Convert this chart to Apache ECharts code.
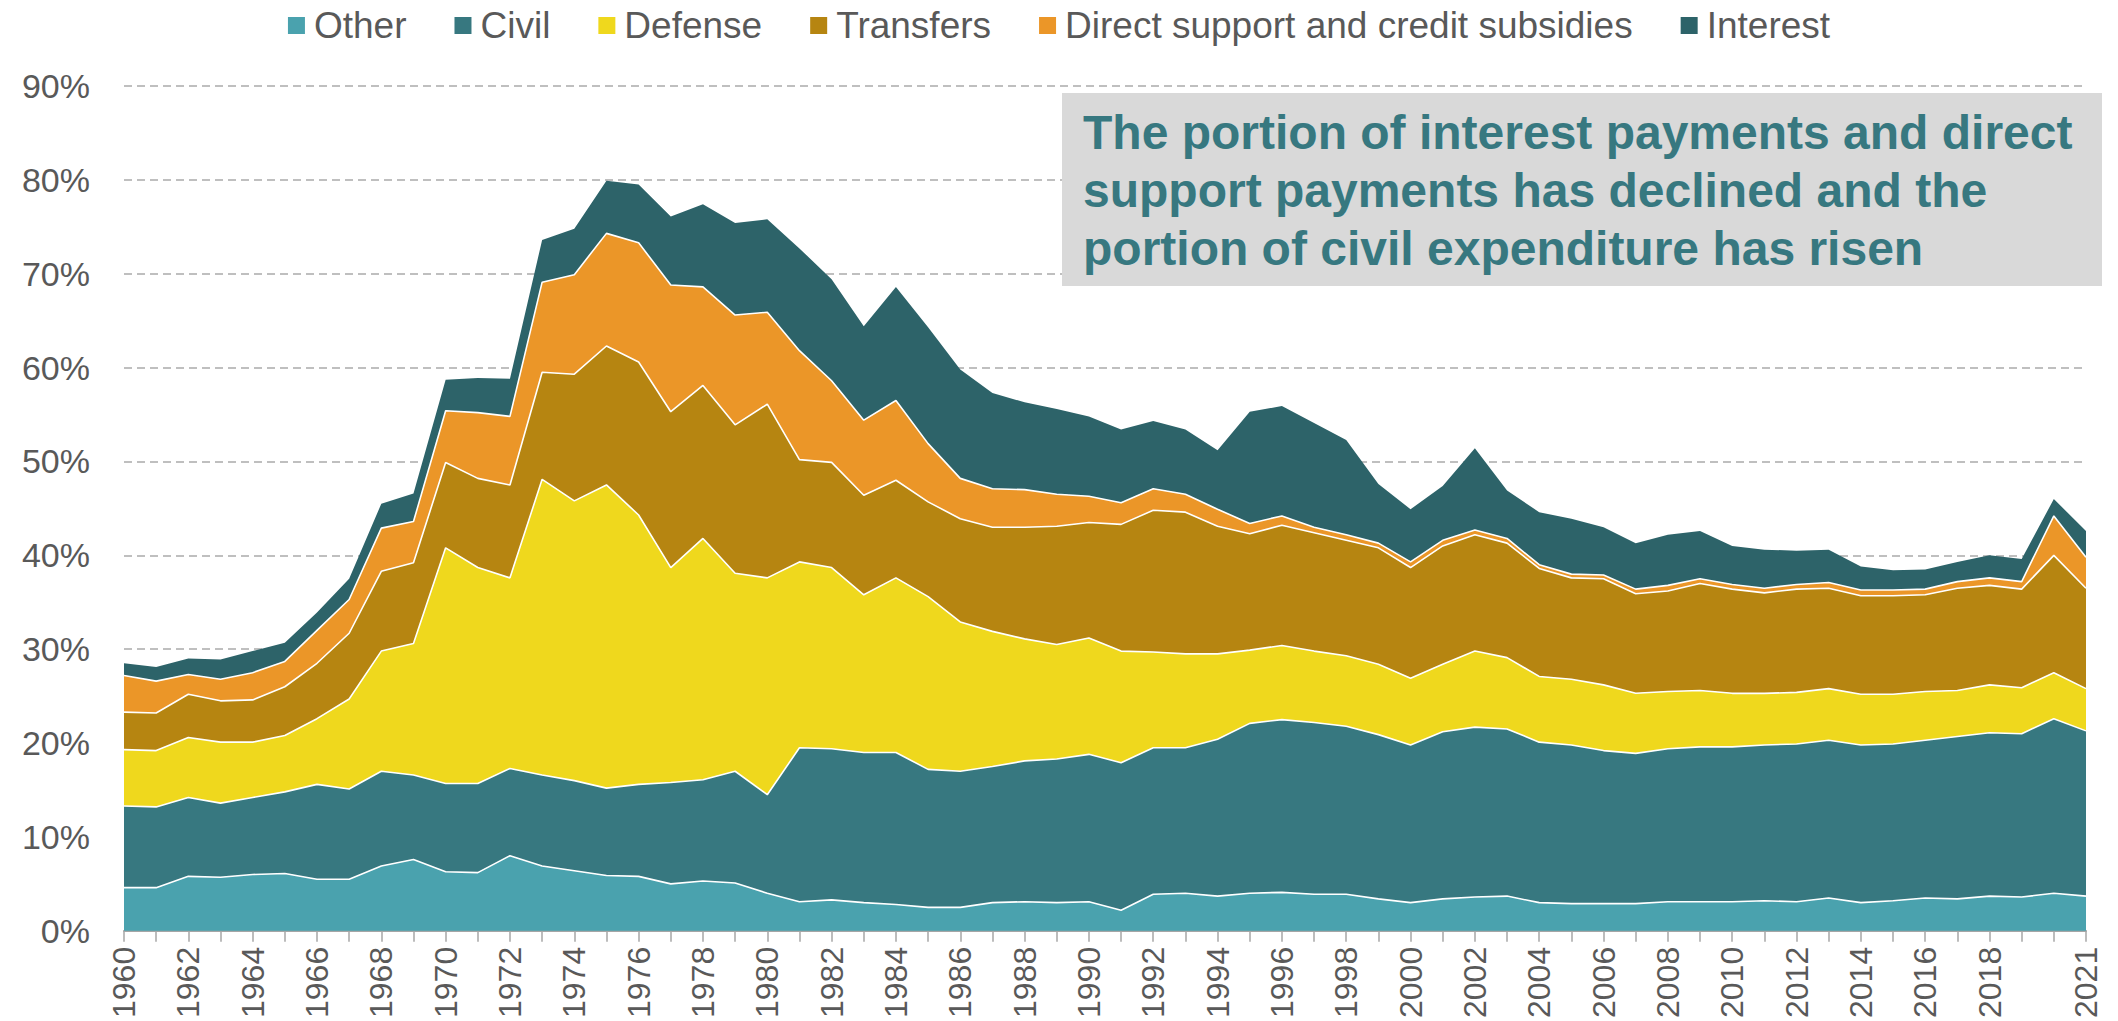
<!DOCTYPE html>
<html>
<head>
<meta charset="utf-8">
<title>Spending composition</title>
<script src="https://cdn.jsdelivr.net/npm/echarts@6/dist/echarts.min.js"></script>
<style>
  html, body { margin: 0; padding: 0; background: #fff; }
  #chart { width: 2118px; height: 1021px; }
</style>
</head>
<body>
<div id="chart"></div>
<script>
// years on the x axis
const years = [];
for (let y = 1960; y <= 2021; y++) years.push(String(y));

// share of each component, in percent
const other = [4.6,4.6,5.8,5.7,6.0,6.1,5.5,5.5,6.9,7.6, 6.3,6.2,8.0,6.9,6.4,5.9,5.8,5.0,5.3,5.1,
  4.0,3.1,3.3,3.0,2.8,2.5,2.5,3.0,3.1,3.0, 3.1,2.2,3.9,4.0,3.7,4.0,4.1,3.9,3.9,3.4,
  3.0,3.4,3.6,3.7,3.0,2.9,2.9,2.9,3.1,3.1, 3.1,3.2,3.1,3.5,3.0,3.2,3.5,3.4,3.7,3.6, 4.0,3.7];
const civil = [8.7,8.6,8.4,7.9,8.2,8.7,10.1,9.6,10.1,9.0, 9.4,9.5,9.3,9.7,9.6,9.3,9.8,10.8,10.8,11.9,
  10.5,16.4,16.1,16.0,16.2,14.7,14.5,14.5,15.0,15.3, 15.7,15.7,15.6,15.5,16.7,18.1,18.4,18.3,17.9,17.5,
  16.8,17.8,18.1,17.8,17.1,16.9,16.3,16.0,16.3,16.5, 16.5,16.6,16.8,16.8,16.8,16.7,16.8,17.3,17.4,17.4, 18.6,17.6];
const defense = [6.0,6.0,6.4,6.5,5.9,6.0,7.0,9.6,12.8,14.0, 25.1,23.0,20.3,31.5,29.8,32.3,28.7,22.9,25.7,21.1,
  23.1,19.8,19.3,16.8,18.6,18.4,15.9,14.4,13.0,12.2, 12.4,11.9,10.2,10.0,9.1,7.8,7.9,7.6,7.5,7.5,
  7.1,7.2,8.1,7.6,7.0,7.0,7.0,6.4,6.1,6.0, 5.7,5.5,5.5,5.5,5.4,5.3,5.2,4.9,5.1,4.9, 4.9,4.5];
const transfers = [4.0,4.0,4.6,4.4,4.5,5.2,5.9,7.0,8.5,8.6, 9.1,9.5,9.9,11.4,13.5,14.8,16.3,16.6,16.3,15.8,
  18.5,10.9,11.2,10.6,10.4,10.1,11.0,11.1,11.9,12.6, 12.3,13.5,15.1,15.1,13.6,12.4,12.8,12.6,12.3,12.4,
  11.8,12.6,12.4,12.2,11.5,10.8,11.3,10.6,10.7,11.4, 11.1,10.7,11.0,10.7,10.5,10.5,10.3,10.9,10.6,10.5, 12.5,10.7];
const directSupport = [3.9,3.4,2.1,2.3,2.9,2.7,3.5,3.6,4.6,4.4, 5.5,7.0,7.3,9.6,10.6,12.0,12.7,13.5,10.5,11.7,
  9.8,11.6,8.7,8.0,8.5,6.2,4.3,4.1,4.0,3.4, 2.8,2.3,2.3,1.9,1.8,1.1,1.0,0.6,0.6,0.5,
  0.6,0.6,0.5,0.5,0.4,0.4,0.4,0.5,0.6,0.5, 0.5,0.5,0.5,0.6,0.6,0.6,0.6,0.7,0.8,0.8, 4.2,3.3];
const interest = [1.3,1.5,1.7,2.1,2.3,2.0,1.9,2.2,2.6,3.0, 3.3,3.7,4.0,4.5,4.9,5.6,6.2,7.3,8.8,9.8,
  9.9,10.9,10.8,10.0,12.1,12.4,11.6,10.2,9.3,9.1, 8.5,7.8,7.2,6.9,6.3,11.9,11.7,11.1,10.1,6.3,
  5.6,5.8,8.7,5.1,5.6,5.9,5.1,4.9,5.4,5.1, 4.1,4.1,3.6,3.5,2.5,2.1,2.1,2.1,2.4,2.4, 1.8,2.8];

const seriesNames = ['Other', 'Civil', 'Defense', 'Transfers', 'Direct support and credit subsidies', 'Interest'];
const seriesData = [other, civil, defense, transfers, directSupport, interest];
const colors = ['#4aa2ae', '#377880', '#efd81d', '#b68511', '#eb9628', '#2d6369'];

const yTicks = [0, 10, 20, 30, 40, 50, 60, 70, 80, 90];

const noteLines = [
  'The portion of interest payments and direct',
  'support payments has declined and the',
  'portion of civil expenditure has risen'
];

const font = "'Liberation Sans', Arial, sans-serif";

let series = [];
for (let i = 0; i < seriesNames.length; i++) {
  series.push({
    name: seriesNames[i],
    type: 'line',
    stack: 'total',
    data: seriesData[i],
    symbol: 'none',
    z: 10 - i,
    itemStyle: { color: colors[i] },
    lineStyle: { color: '#ffffff', width: i == seriesNames.length - 1 ? 0 : 1.6 },
    areaStyle: { color: colors[i], opacity: 1 },
    emphasis: { disabled: true }
  });
}

let chart = echarts.init(document.getElementById('chart'), null, { renderer: 'svg' });
let option = {
  animation: false,
  color: colors,
  legend: {
    top: 2,
    left: 'center',
    icon: 'rect',
    itemWidth: 17,
    itemHeight: 17,
    itemGap: 48,
    data: seriesNames,
    textStyle: { fontFamily: font, fontSize: 37, color: '#595959', padding: [0, 0, 0, 4] }
  },
  grid: { left: 124, right: 32, top: 86, bottom: 90 },
  xAxis: {
    type: 'category',
    data: years,
    boundaryGap: false,
    axisLine: { lineStyle: { color: '#a6a6a6', width: 2 } },
    axisTick: { show: true, interval: 0, length: 11, lineStyle: { color: '#a6a6a6', width: 1.5 } },
    axisLabel: {
      rotate: 90,
      margin: 16,
      fontFamily: font,
      fontSize: 32,
      color: '#595959',
      interval: function (idx, val) {
        if (val === '2021') return true;
        if (val === '2020') return false;
        return idx % 2 === 0;
      }
    },
    splitLine: { show: false }
  },
  yAxis: {
    type: 'value',
    min: yTicks[0],
    max: yTicks[yTicks.length - 1],
    interval: 10,
    axisLine: { show: false },
    axisTick: { show: false },
    axisLabel: { fontFamily: font, fontSize: 34, color: '#595959', margin: 34, formatter: '{value}%' },
    splitLine: { lineStyle: { color: '#ababab', width: 1.5, type: [8, 5] } }
  },
  graphic: [
    {
      type: 'rect',
      z: 100,
      shape: { x: 1062, y: 93, width: 1040, height: 193 },
      style: { fill: '#d9d9d9' }
    },
    {
      type: 'text',
      z: 101,
      left: 1083,
      top: 103,
      style: {
        text: noteLines.join('\n'),
        fill: '#377880',
        font: 'bold 48px ' + font,
        lineHeight: 58
      }
    }
  ],
  series: series
};
chart.setOption(option);
</script>
</body>
</html>
